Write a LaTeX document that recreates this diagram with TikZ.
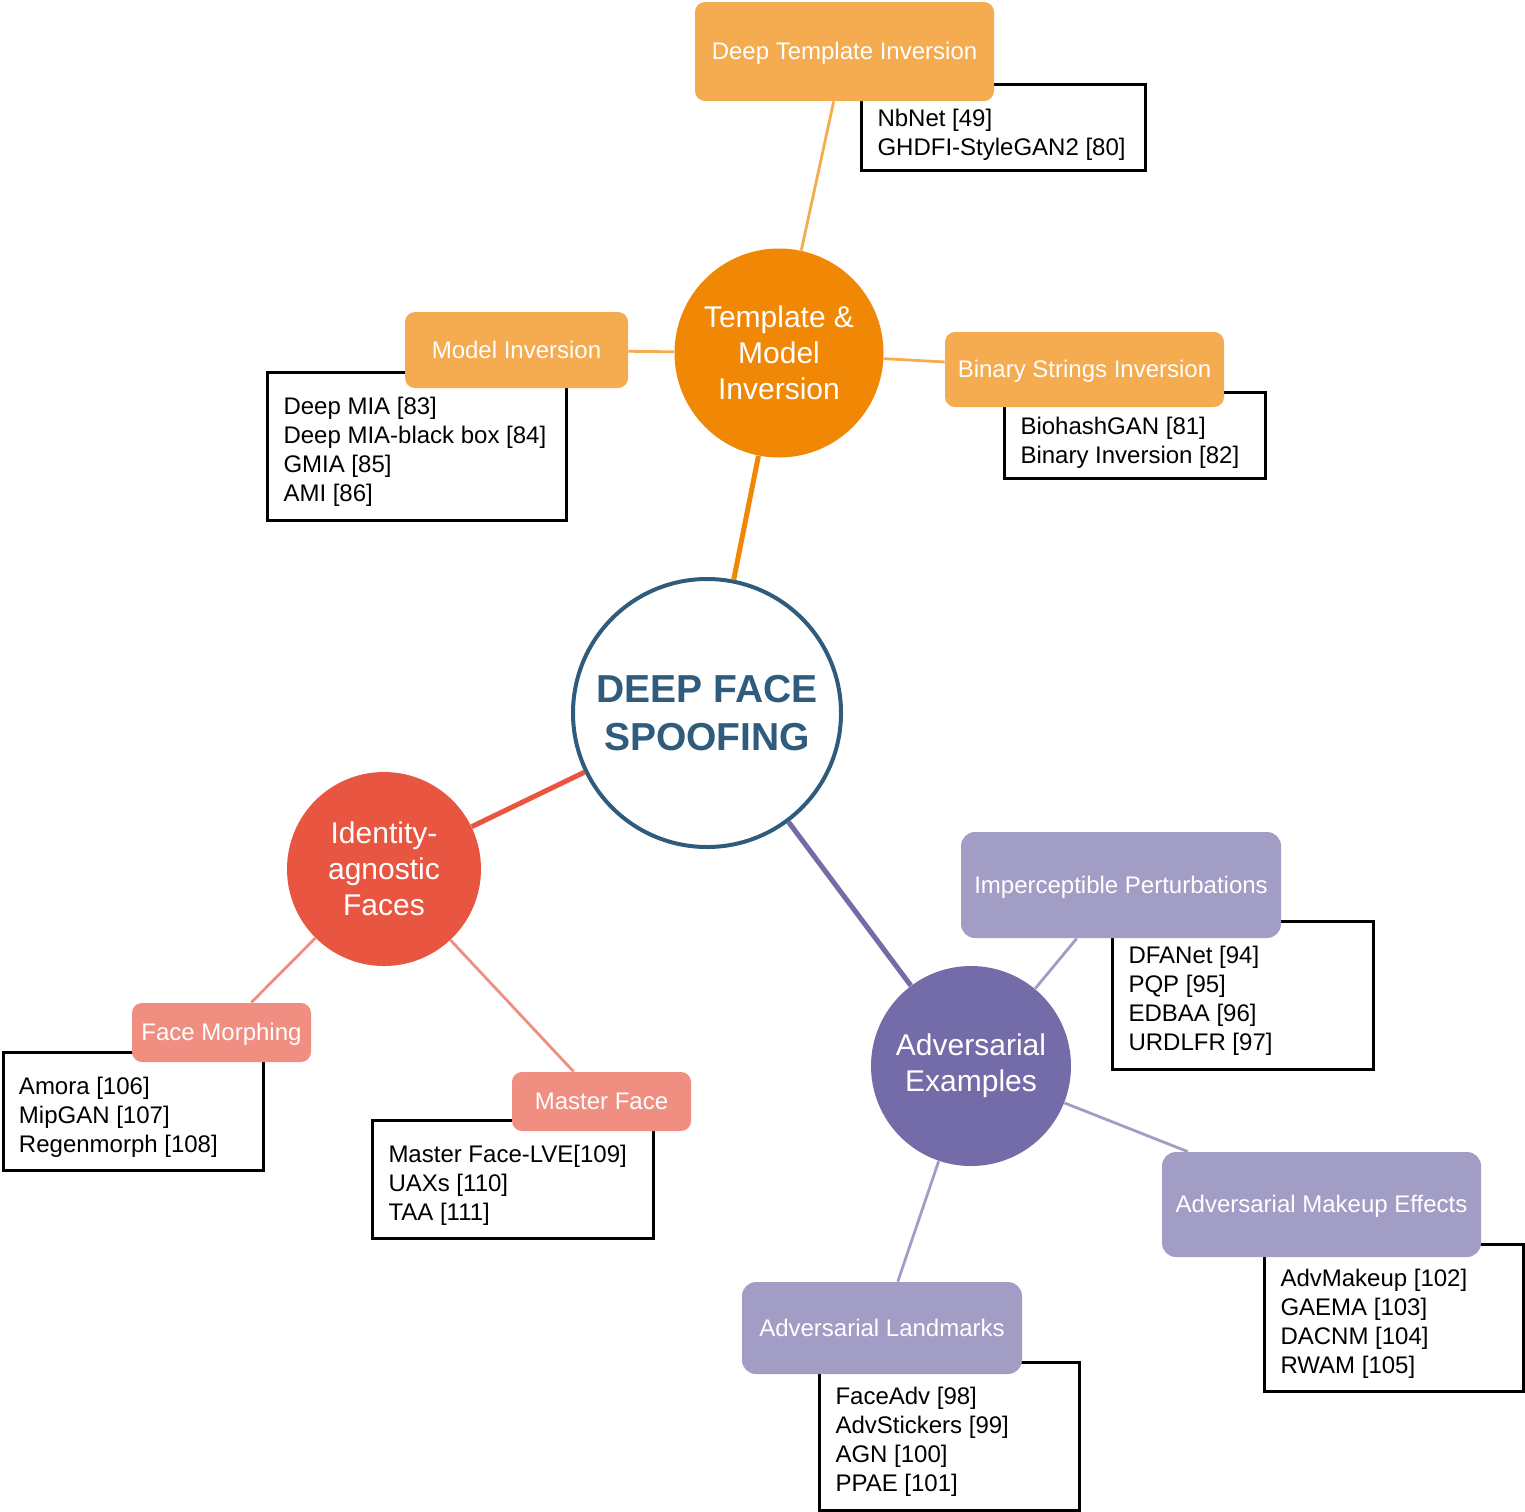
\documentclass[tikz,border=0pt]{standalone}
\usepackage{fontspec}
\setmainfont{Liberation Sans}
\definecolor{dblue}{HTML}{2F5B7C}
\definecolor{orangeA}{HTML}{F08705}
\definecolor{orangeB}{HTML}{F5AB50}
\definecolor{redA}{HTML}{E85642}
\definecolor{redB}{HTML}{F08E81}
\definecolor{purpleA}{HTML}{736CA8}
\definecolor{purpleB}{HTML}{A29DC5}
\newcommand{\reflines}[3]{\begin{minipage}[c][#2][t]{#1}\fontsize{12pt}{14.5pt}\selectfont\raggedright\leftskip=8pt\relax\rule{0pt}{21pt}#3\end{minipage}}
\tikzset{
  hub/.style={circle, fill=#1, text=white, font=\fontsize{15pt}{18pt}\selectfont, align=center, inner sep=0pt},
  topic/.style={rectangle, rounded corners=5pt, fill=#1, text=white, font=\fontsize{12pt}{14pt}\selectfont, inner sep=0pt, text height=10.3pt, text depth=2pt},
  bigtopic/.style={topic=#1, rounded corners=7pt},
  refbox/.style={draw=black, line width=1.5pt, anchor=north west, inner sep=0pt, fill=white},
  thickedge/.style={line width=2.5pt, draw=#1},
  thinedge/.style={line width=1.4pt, draw=#1},
}
\begin{document}
\begin{tikzpicture}[x=0.5pt,y=-0.5pt]
\path[use as bounding box, fill=white] (0,0) rectangle (1525,1511);

% reference boxes
\node[refbox] (nbbox) at (860,83) {\reflines{142pt}{43pt}{NbNet [49]\\GHDFI-StyleGAN2 [80]}};
\node[refbox] (miabox) at (266,371) {\reflines{149.5pt}{74pt}{Deep MIA [83]\\Deep MIA-black box [84]\\GMIA [85]\\AMI [86]}};
\node[refbox] (biobox) at (1003,391) {\reflines{130.5pt}{43pt}{BiohashGAN [81]\\Binary Inversion [82]}};
\node[refbox] (amorabox) at (1.5,1051) {\reflines{130pt}{59pt}{Amora [106]\\MipGAN [107]\\Regenmorph [108]}};
\node[refbox] (mfbox) at (371,1119) {\reflines{140.5pt}{59pt}{Master Face-LVE[109]\\UAXs [110]\\TAA [111]}};
\node[refbox] (dfabox) at (1111,920) {\reflines{130.5pt}{74pt}{DFANet [94]\\PQP [95]\\EDBAA [96]\\URDLFR [97]}};
\node[refbox] (advmbox) at (1263,1243) {\reflines{129.5pt}{73.5pt}{AdvMakeup [102]\\GAEMA [103]\\DACNM [104]\\RWAM [105]}};
\node[refbox] (fadvbox) at (818,1361) {\reflines{130pt}{74pt}{FaceAdv [98]\\AdvStickers [99]\\AGN [100]\\PPAE [101]}};

% topic rectangles
\node[topic=orangeB, minimum width=149.5pt, minimum height=49.5pt] (dti) at (844.5,51.5) {Deep Template Inversion};
\node[topic=orangeB, minimum width=111.5pt, minimum height=38pt] (mi) at (516.5,350) {Model Inversion};
\node[topic=orangeB, minimum width=139.5pt, minimum height=37.5pt] (bsi) at (1084.5,369.5) {Binary Strings Inversion};
\node[topic=redB, minimum width=89.5pt, minimum height=29.5pt] (fm) at (221.5,1032.5) {Face Morphing};
\node[topic=redB, minimum width=89.5pt, minimum height=29.5pt] (mf) at (601.5,1101.5) {Master Face};
\node[bigtopic=purpleB, minimum width=160pt, minimum height=53pt] (ip) at (1121,885) {Imperceptible Perturbations};
\node[bigtopic=purpleB, minimum width=159.5pt, minimum height=52.5pt] (ame) at (1321.5,1204.5) {Adversarial Makeup Effects};
\node[bigtopic=purpleB, minimum width=140pt, minimum height=46pt] (al) at (882,1328) {Adversarial Landmarks};

% hubs
\node[circle, draw=dblue, line width=2pt, fill=white, minimum size=134pt, inner sep=0pt, text=dblue, font=\bfseries\fontsize{19.5pt}{24pt}\selectfont, align=center] (root) at (707,713) {DEEP FACE\\SPOOFING};
\node[hub=orangeA, minimum size=104.5pt] (tmi) at (779,353) {Template \&\\Model\\Inversion};
\node[hub=redA, minimum size=97pt] (iaf) at (384,869) {Identity-\\agnostic\\Faces};
\node[hub=purpleA, minimum size=100pt] (adv) at (971,1066) {Adversarial\\Examples};

% connectors
\draw[thickedge=orangeA] (root) -- (tmi);
\draw[thinedge=orangeB] (tmi) -- (dti);
\draw[thinedge=orangeB] (tmi) -- (mi);
\draw[thinedge=orangeB] (tmi) -- (bsi);
\draw[thickedge=redA] (root) -- (iaf);
\draw[thinedge=redB] (iaf) -- (fm);
\draw[thinedge=redB] (iaf) -- (mf);
\draw[thickedge=purpleA] (root) -- (adv);
\draw[thinedge=purpleB] (adv) -- (ip);
\draw[thinedge=purpleB] (adv) -- (ame);
\draw[thinedge=purpleB] (adv) -- (al);
\end{tikzpicture}
\end{document}
